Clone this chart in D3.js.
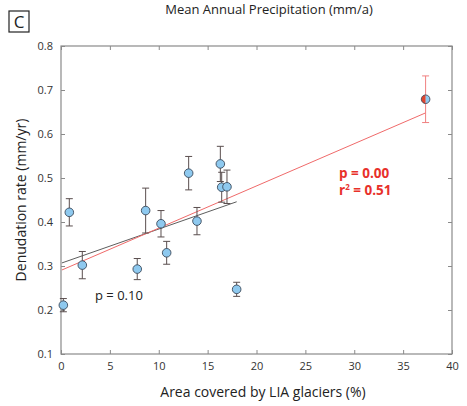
<!DOCTYPE html>
<html><head><meta charset="utf-8">
<script src="https://cdn.jsdelivr.net/npm/d3@7"></script>
<style>body{margin:0;background:#fff}svg{display:block}text{font-family:"Open Sans",sans-serif}</style>
</head><body><svg id="c" width="467" height="406"></svg>
<script>
const xs = [0.24, 0.85, 2.18, 7.8, 8.66, 10.23, 10.81, 13.06, 13.91, 16.3, 16.44, 16.98, 17.97, 37.3];
const ys = [0.211, 0.422, 0.302, 0.293, 0.426, 0.396, 0.330, 0.511, 0.402, 0.532, 0.479, 0.480, 0.247, 0.679];
const errs = [0.015, 0.031, 0.031, 0.024, 0.051, 0.030, 0.026, 0.038, 0.031, 0.040, 0.034, 0.038, 0.016, 0.053];
const blackLine = [[0.1, 0.307], [17.97, 0.446]];
const redLine = [[0.1, 0.291], [37.3, 0.648]];
const xTicks = [0, 5, 10, 15, 20, 25, 30, 35, 40];
const yTicks = [0.1, 0.2, 0.3, 0.4, 0.5, 0.6, 0.7, 0.8];

const svg = d3.select("#c");
const x = d3.scaleLinear().domain([0, 40]).range([61, 452]);
const y = d3.scaleLinear().domain([0.1, 0.8]).range([354, 46]);
const axisCol = "#8a8a8a", tickTxt = "#333";

// frame
svg.append("rect").attr("x", 61).attr("y", 46).attr("width", 391).attr("height", 308)
  .attr("fill", "none").attr("stroke", axisCol).attr("stroke-width", 1.2);

const gB = svg.append("g").attr("transform", "translate(0,354)")
  .call(d3.axisBottom(x).tickValues(xTicks).tickSize(-4).tickPadding(8).tickFormat(d3.format("d")));
const gT = svg.append("g").attr("transform", "translate(0,46)")
  .call(d3.axisTop(x).tickValues(xTicks).tickSize(-4).tickFormat(""));
const gL = svg.append("g").attr("transform", "translate(61,0)")
  .call(d3.axisLeft(y).tickValues(yTicks).tickSize(-4).tickPadding(8).tickFormat(d3.format(".1f")));
const gR = svg.append("g").attr("transform", "translate(452,0)")
  .call(d3.axisRight(y).tickValues(yTicks).tickSize(-4).tickFormat(""));
[gB, gT, gL, gR].forEach(g => {
  g.select(".domain").remove();
  g.selectAll(".tick line").attr("stroke", axisCol);
  g.selectAll(".tick text").attr("fill", tickTxt).style("font-size", "11px").style("font-family", "'Open Sans',sans-serif");
});

// regression lines
const line = d3.line().x(d => x(d[0])).y(d => y(d[1]));
svg.append("path").attr("d", line(blackLine)).attr("stroke", "#333").attr("stroke-width", 0.8).attr("fill", "none");
svg.append("path").attr("d", line(redLine)).attr("stroke", "#f06a6a").attr("stroke-width", 1).attr("fill", "none");

// error bars
const n = xs.length;
for (let i = 0; i < n; i++) {
  const col = i === n - 1 ? "#f08080" : "#5a4e4e";
  const g = svg.append("g").attr("stroke", col).attr("stroke-width", 1);
  g.append("line").attr("x1", x(xs[i])).attr("x2", x(xs[i])).attr("y1", y(ys[i] - errs[i])).attr("y2", y(ys[i] + errs[i]));
  [ys[i] - errs[i], ys[i] + errs[i]].forEach(v => {
    g.append("line").attr("x1", x(xs[i]) - 3.5).attr("x2", x(xs[i]) + 3.5).attr("y1", y(v)).attr("y2", y(v));
  });
}
// markers
for (let i = 0; i < n - 1; i++) {
  svg.append("circle").attr("cx", x(xs[i])).attr("cy", y(ys[i])).attr("r", 4.3)
    .attr("fill", "#8ec9ef").attr("stroke", "#3b4a5a").attr("stroke-width", 0.9);
}
{
  const cx = x(xs[n - 1]), cy = y(ys[n - 1]), r = 4.3;
  svg.append("path").attr("d", `M${cx},${cy - r}A${r},${r} 0 0 0 ${cx},${cy + r}Z`).attr("fill", "#e0452e");
  svg.append("path").attr("d", `M${cx},${cy - r}A${r},${r} 0 0 1 ${cx},${cy + r}Z`).attr("fill", "#8ec9ef");
  svg.append("circle").attr("cx", cx).attr("cy", cy).attr("r", r).attr("fill", "none").attr("stroke", "#4a4a5a").attr("stroke-width", 0.9);
}

// annotations
svg.append("text").attr("x", 95).attr("y", 300).attr("fill", "#222").style("font-size", "13px").text("p = 0.10");
svg.append("text").attr("x", 339).attr("y", 178).attr("fill", "#e8302a").style("font-size", "13.5px").style("font-weight", "bold").text("p = 0.00");
const r2 = svg.append("text").attr("x", 339).attr("y", 195).attr("fill", "#e8302a").style("font-size", "13.5px").style("font-weight", "bold");
r2.append("tspan").text("r");
r2.append("tspan").attr("dy", -5).style("font-size", "8px").text("2");
r2.append("tspan").attr("dy", 5).text(" = 0.51");

// title, labels
svg.append("text").attr("x", 269).attr("y", 14).attr("text-anchor", "middle").attr("fill", "#222").style("font-size", "13px").text("Mean Annual Precipitation (mm/a)");
svg.append("rect").attr("x", 9).attr("y", 11).attr("width", 20).attr("height", 21).attr("fill", "none").attr("stroke", "#222").attr("stroke-width", 1.2);
svg.append("text").attr("x", 19).attr("y", 28).attr("text-anchor", "middle").attr("fill", "#222").style("font-size", "17px").text("C");
svg.append("text").attr("x", 263).attr("y", 397).attr("text-anchor", "middle").attr("fill", "#222").style("font-size", "14px").text("Area covered by LIA glaciers (%)");
svg.append("text").attr("transform", "translate(26,200) rotate(-90)").attr("text-anchor", "middle").attr("fill", "#222").style("font-size", "14px").text("Denudation rate (mm/yr)");
</script></body></html>
